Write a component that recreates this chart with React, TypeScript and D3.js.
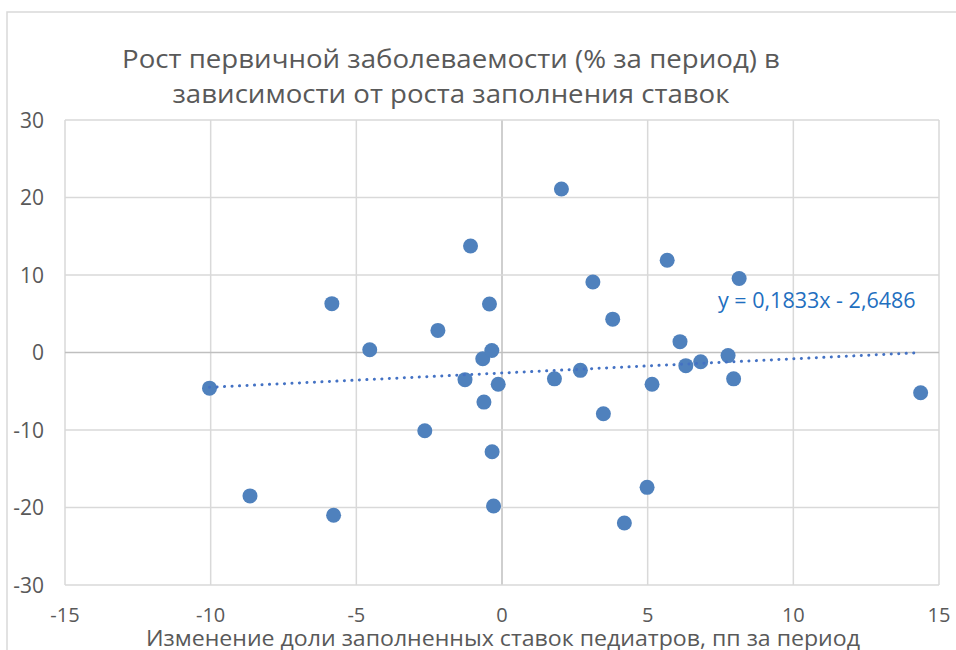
import { scaleLinear, range } from "d3";

// изменение доли заполненных ставок, пп
const xVals = [
  -10.04, -8.65, -5.84, -5.78, -4.54, -2.2, -2.65, -1.08, -1.27, -0.66, -0.43,
  -0.35, -0.13, -0.62, -0.34, -0.29, 2.04, 3.12, 3.8, 5.67, 8.14, 6.11, 1.8,
  2.69, 6.31, 6.82, 7.76, 5.15, 7.95, 14.37, 3.48, 4.98, 4.2,
];
// рост первичной заболеваемости, %
const yVals = [
  -4.6, -18.5, 6.3, -21.0, 0.35, 2.85, -10.1, 13.75, -3.5, -0.8, 6.25, 0.25,
  -4.1, -6.4, -12.8, -19.8, 21.1, 9.1, 4.3, 11.9, 9.55, 1.4, -3.4, -2.3, -1.7,
  -1.2, -0.4, -4.1, -3.4, -5.2, -7.9, -17.4, -22.0,
];
const xTicks = [-15, -10, -5, 0, 5, 10, 15];
const yTicks = [-30, -20, -10, 0, 10, 20, 30];
const titleLines = [
  "Рост первичной заболеваемости (% за период) в",
  "зависимости от роста заполнения ставок",
];
const titleWidths = [658, 557];
const xTitle = "Изменение доли заполненных ставок педиатров, пп за период";
const slope = 0.1833;
const intercept = -2.6486;

const W = 956,
  H = 650;
const FONT = "'Open Sans', sans-serif";

export default function App() {
  const x = scaleLinear([-15, 15], [65, 939]);
  const y = scaleLinear([-30, 30], [585, 120]);

  const xMin = Math.min(...xVals);
  const xMax = Math.max(...xVals);
  // точки линии тренда, пунктир
  const trend = range(xMin, xMax + 0.001, (xMax - xMin) / 100).map((v) => [
    x(v),
    y(slope * v + intercept),
  ]);
  const trendPath = "M" + trend.map((p) => p.join(",")).join("L");

  return (
    <svg
      width={W}
      height={H}
      style={{ position: "absolute", left: 0, top: 0, background: "#fff" }}
      fontFamily={FONT}
    >
      {/* рамка диаграммы */}
      <rect x={7} y={12} width={W + 20} height={H + 20} fill="none" stroke="#d9d9d9" strokeWidth={1.5} />

      {/* сетка */}
      {xTicks.map((t) => (
        <line key={"gx" + t} x1={x(t)} x2={x(t)} y1={y(30)} y2={y(-30)}
          stroke={t === 0 ? "#bfbfbf" : "#d9d9d9"} strokeWidth={1.5} />
      ))}
      {yTicks.map((t) => (
        <line key={"gy" + t} x1={x(-15)} x2={x(15)} y1={y(t)} y2={y(t)}
          stroke={t === 0 ? "#bfbfbf" : "#d9d9d9"} strokeWidth={1.5} />
      ))}

      {/* подписи осей */}
      {yTicks.map((t) => (
        <text key={"ty" + t} x={44} y={y(t)} dy="0.36em" textAnchor="end"
          fontSize={21} fill="#595959">{t}</text>
      ))}
      {xTicks.map((t) => (
        <text key={"tx" + t} x={x(t)} y={622} textAnchor="middle"
          fontSize={20} fill="#595959">{t}</text>
      ))}

      {/* точки */}
      {xVals.map((v, i) => (
        <circle key={i} cx={x(v)} cy={y(yVals[i])} r={7.5} fill="#4F81BD" />
      ))}

      {/* линия тренда */}
      <path d={trendPath} fill="none" stroke="#4472C4" strokeWidth={3}
        strokeDasharray="0.1 7.4" strokeLinecap="round" />
      <text x={718} y={308} fontSize={21.5} fill="#1F6FBF">
        y = 0,1833x - 2,6486
      </text>

      {/* заголовок */}
      {titleLines.map((l, i) => (
        <text key={l} x={451} y={68 + i * 35} textAnchor="middle" fontSize={26}
          textLength={titleWidths[i]} lengthAdjust="spacingAndGlyphs" fill="#595959">
          {l}
        </text>
      ))}
      <text x={503} y={646} textAnchor="middle" fontSize={22.5} textLength={714}
        lengthAdjust="spacingAndGlyphs" fill="#595959">
        {xTitle}
      </text>
    </svg>
  );
}
